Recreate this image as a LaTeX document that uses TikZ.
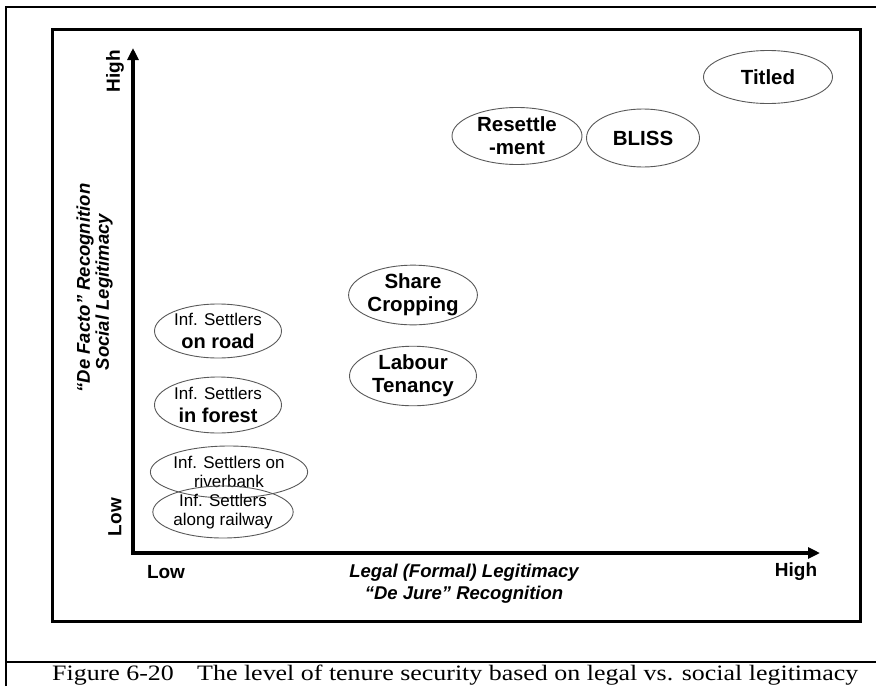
\documentclass[tikz,border=0pt]{standalone}
\usepackage{fontspec}
\usepackage{graphicx}
\setmainfont{Liberation Serif}
\setsansfont{Liberation Sans}
\usetikzlibrary{shapes.geometric, arrows.meta}

\begin{document}
\begin{tikzpicture}[x=1pt, y=-1pt,
  frameline/.style={line width=2pt, black},
  panel/.style={line width=3pt, black},
  axisline/.style={line width=3.2pt, black, -{Triangle[length=12pt, width=11pt]}},
  bubble/.style 2 args={ellipse, draw=black!65, line width=0.9pt, inner sep=0pt,
    minimum width=#1pt, minimum height=#2pt, align=center, font=\sffamily\bfseries\fontsize{20.5}{23}\selectfont},
  endlabel/.style={font=\sffamily\bfseries\fontsize{19}{22}\selectfont, inner sep=0pt},
  axistitle/.style={font=\sffamily\bfseries\itshape\fontsize{18.5}{21}\selectfont, inner sep=0pt},
  thinline/.style={font=\sffamily\mdseries\fontsize{17}{19}\selectfont},
  boldline/.style={font=\sffamily\bfseries\fontsize{20}{22}\selectfont}
]
\useasboundingbox (0,0) rectangle (876,686);

% page / table borders
\draw[frameline] (6,686) -- (6,7) -- (876,7);
\draw[frameline] (6,662) -- (876,662);

% chart panel
\draw[panel] (52,29) rectangle (860,621);

% axes
\coordinate (origin) at (133,553);
\coordinate (ytip) at (133,48);
\coordinate (xtip) at (820,553);
\draw[axisline] ([yshift=1.6pt]origin) -- (ytip);
\draw[axisline] ([xshift=-1.6pt]origin) -- (xtip);

% axis end labels
\node[endlabel, rotate=90] (yhigh) at (115,71) {High};
\node[endlabel, rotate=90] (ylow) at (115,517) {Low};
\node[endlabel] (xlow) at (166,572) {Low};
\node[endlabel] (xhigh) at (796,572) {High};

% axis titles
\node[axistitle] (xtitle1) at (464,573) {Legal (Formal) Legitimacy};
\node[axistitle] (xtitle2) at (464,595) {“De Jure” Recognition};
\node[axistitle, rotate=90] (ytitle1) at (85,288) {“De Facto” Recognition};
\node[axistitle, rotate=90] (ytitle2) at (104,292) {Social Legitimacy};

% tenure categories
\node[bubble={129}{53}] (titled) at (768,77) {Titled};
\node[bubble={113}{58}] (bliss) at (643,138) {BLISS};
\node[bubble={130}{57}] (resettle) at (517,136) {Resettle\\-ment};
\node[bubble={127}{56}] (share) at (413,295) {Share\\Cropping};
\node[bubble={127}{56}] (labour) at (413,376) {Labour\\Tenancy};
\node[bubble={127}{54}] (road) at (218,331) {{\sffamily\mdseries\fontsize{17}{19}\selectfont Inf. Settlers}\\{\fontsize{20}{22}\selectfont on road}};
\node[bubble={127}{56}] (forest) at (218,405) {{\sffamily\mdseries\fontsize{17}{19}\selectfont Inf. Settlers}\\{\fontsize{20}{22}\selectfont in forest}};
\node[bubble={148}{52}, thinline] (river) at (229,472) {Inf. Settlers on\\riverbank};
\node[bubble={140}{52}, thinline] (railway) at (223,512) {Inf. Settlers\\along railway};

% caption
\node[anchor=base west, inner sep=0pt] (caption) at (52,680.5)
  {\resizebox{806pt}{\height}{\fontsize{22}{24}\selectfont Figure 6-20\hspace{0.9em}The level of tenure security based on legal vs. social legitimacy}};
\end{tikzpicture}
\end{document}
